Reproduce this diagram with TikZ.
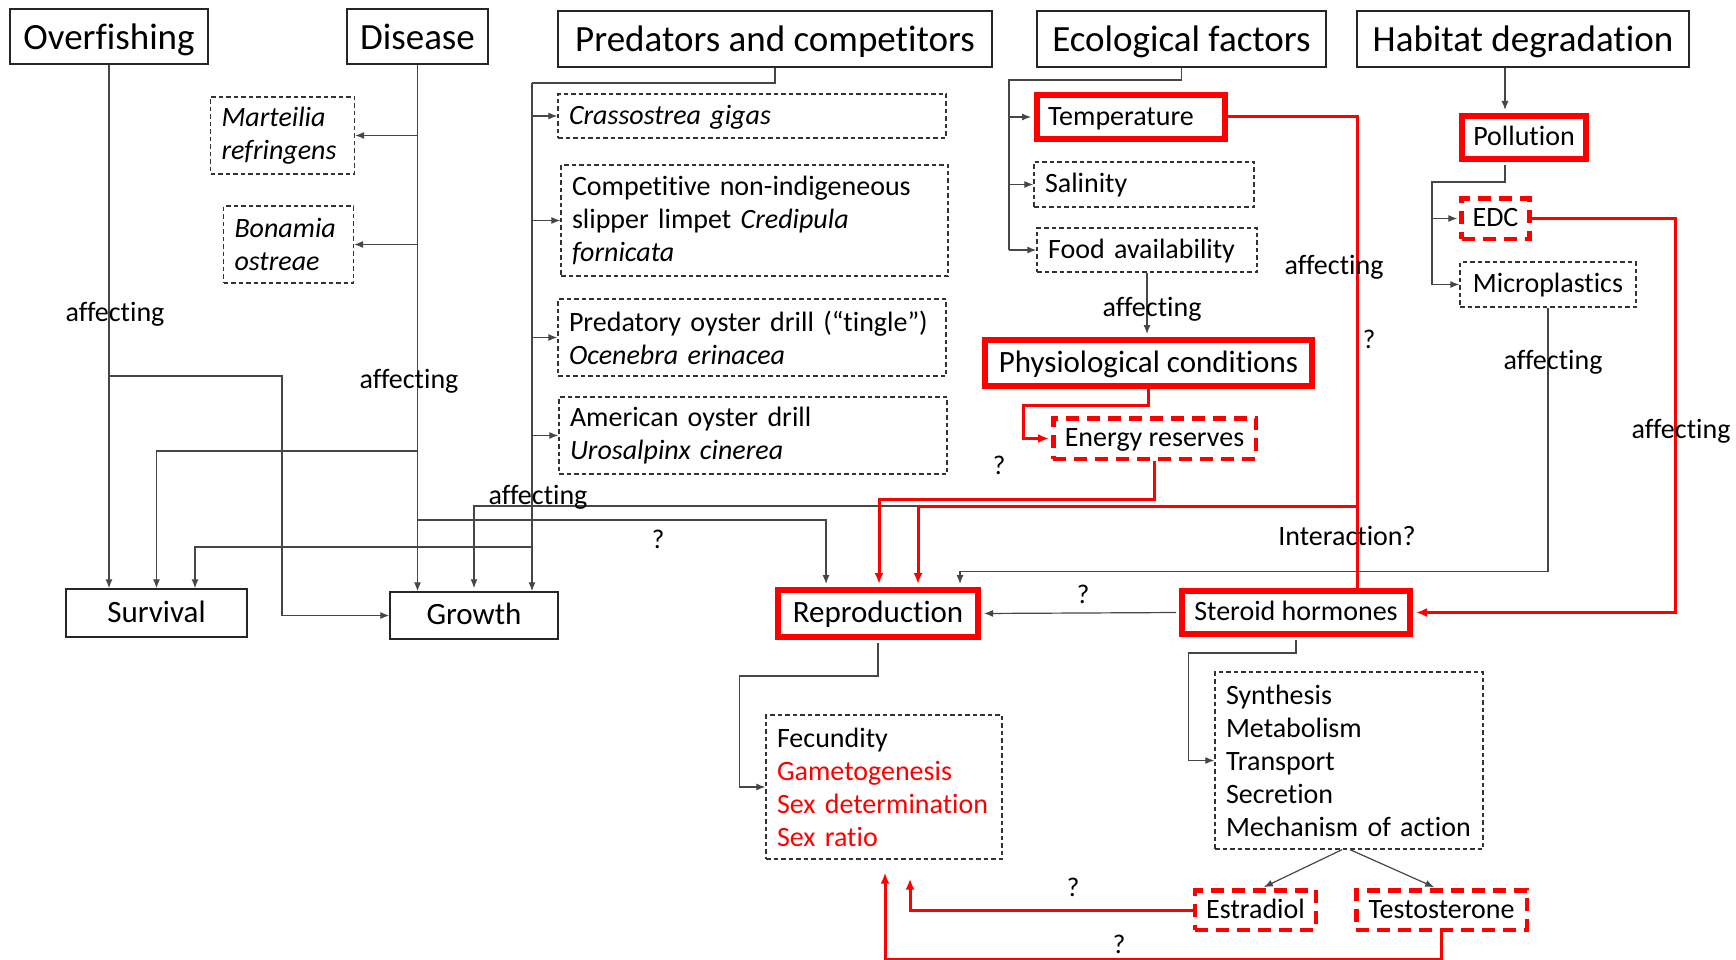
\documentclass[tikz,border=0pt]{standalone}
\usepackage{fontspec}
\setmainfont{Carlito}[Ligatures=NoCommon]
\usetikzlibrary{arrows.meta,calc}
\newcommand{\myfs}[1]{\fontsize{#1}{33}\selectfont}
\definecolor{rd}{RGB}{255,0,0}
\definecolor{gl}{RGB}{70,70,70}
\tikzset{
  every node/.style={inner sep=0pt},
  one/.style={text height=18.5pt, text depth=1.7pt},
  onebig/.style={text height=20.5pt, text depth=1.9pt},
  title/.style={draw=black!85, line width=1.5pt, font=\fontsize{37}{44}\selectfont, text height=27.4pt, text depth=1.5pt},
  dbox/.style={draw=black!80, line width=1.3pt, dash pattern=on 4.5pt off 3pt, inner xsep=11pt, align=left, font=\myfs{28}},
  rbox/.style={draw=rd, line width=6pt, inner xsep=11pt, font=\myfs{28}, one},
  rdbox/.style={draw=rd, line width=4.5pt, dash pattern=on 13pt off 8pt, inner xsep=11pt, font=\myfs{28}, one},
  sbox/.style={draw=black!85, line width=1.5pt, font=\myfs{31}, onebig},
  gline/.style={draw=gl, line width=1.2pt},
  garr/.style={gline, -{Latex[length=9pt,width=7pt]}},
  rline/.style={draw=rd, line width=3pt},
  rarr/.style={rline, -{Latex[length=11pt,width=9pt]}},
  lbl/.style={font=\myfs{28}, one},
  qm/.style={font=\myfs{27}, text height=17.8pt, text depth=1.6pt},
}
\begin{document}
\begin{tikzpicture}[x=1pt,y=-1pt]
\useasboundingbox (0,0) rectangle (1736,960);
\fill[white] (0,0) rectangle (1736,960);

% ---- titles
\node[title, minimum width=198pt, minimum height=55pt] (over) at (109,36.5) {Overfishing};
\node[title, minimum width=141pt, minimum height=55pt] (dis) at (417.5,36.5) {Disease};
\node[title, minimum width=434pt, minimum height=56pt] (pred) at (775,39) {Predators and competitors};
\node[title, minimum width=289pt, minimum height=56pt] (eco) at (1181.5,39) {Ecological factors};
\node[title, minimum width=332pt, minimum height=56pt] (hab) at (1523,39) {Habitat degradation};

% ---- dashed boxes
\node[dbox, text width=122pt, minimum height=77pt] (mart) at (282.5,135.5) {\textit{Marteilia}\\\textit{refringens}};
\node[dbox, text width=108pt, minimum height=77pt] (bon) at (288.5,244.5) {\textit{Bonamia}\\\textit{ostreae}};
\node[dbox, one, text width=366pt, minimum height=44pt] (cras) at (752,116) {\textit{Crassostrea gigas}};
\node[dbox, text width=365pt, minimum height=111pt] (comp) at (754.5,220.5) {Competitive non-indigeneous\\slipper limpet \textit{Credipula}\\\textit{fornicata}};
\node[dbox, text width=366pt, minimum height=77pt] (predd) at (752,337.5) {Predatory oyster drill (“tingle”)\\\textit{Ocenebra erinacea}};
\node[dbox, text width=366pt, minimum height=77pt] (amer) at (753,435.5) {American oyster drill\\\textit{Urosalpinx cinerea}};
\node[dbox, one, text width=198pt, minimum height=45pt] (sal) at (1144,184.5) {Salinity};
\node[dbox, one, text width=198pt, minimum height=44pt] (food) at (1147,250) {Food availability};
\node[dbox, one, minimum width=176pt, minimum height=45pt] (micro) at (1548,284.5) {Microplastics};
\node[dbox, text width=214pt, minimum height=144pt] (fec) at (884,787) {Fecundity\\\textcolor{rd}{Gametogenesis}\\\textcolor{rd}{Sex determination}\\\textcolor{rd}{Sex ratio}};
\node[dbox, text width=246pt, minimum height=177pt] (syn) at (1349,760.5) {Synthesis\\Metabolism\\Transport\\Secretion\\Mechanism of action};

% ---- red boxes
\node[rbox, text width=166pt, align=left, minimum height=44pt] (temp) at (1131,117) {Temperature};
\node[rbox, minimum width=124pt, minimum height=43pt] (poll) at (1524,137.5) {Pollution};
\node[rbox, onebig, minimum width=327pt, minimum height=46pt, font=\myfs{31}] (phys) at (1148.5,363) {Physiological conditions};
\node[rbox, onebig, minimum width=200pt, minimum height=47pt, font=\myfs{31}] (repro) at (878,613.5) {Reproduction};
\node[rbox, minimum width=228pt, minimum height=43pt] (ster) at (1296,612.5) {Steroid hormones};
\node[rdbox, minimum width=66.5pt, minimum height=40.5pt] (edc) at (1495.5,218.5) {EDC};
\node[rdbox, minimum width=202.5pt, minimum height=40.5pt] (energy) at (1154.5,438.5) {Energy reserves};
\node[rdbox, minimum width=120.5pt, minimum height=39.5pt] (estr) at (1255.5,910) {Estradiol};
\node[rdbox, minimum width=170.5pt, minimum height=39.5pt] (test) at (1441.5,910) {Testosterone};

% ---- outcome boxes
\node[sbox, minimum width=181pt, minimum height=48pt] (surv) at (156.5,613) {Survival};
\node[sbox, minimum width=168pt, minimum height=47pt] (grow) at (474,615.5) {Growth};

% ---- helper coordinates
\coordinate (o1) at (109,376);
\coordinate (o2) at (282,376);
\coordinate (d1) at (417.5,451);
\coordinate (d2) at (417.5,520);
\coordinate (pv) at (532,83);
\coordinate (p1) at (532,547);
\coordinate (ev) at (1009,80);
\coordinate (hp) at ([xshift=-19pt]poll.north);
\coordinate (pb) at ([xshift=-19pt]poll.south);
\coordinate (hv) at (1432,182);
\coordinate (tj) at (1357,506);

% ---- gray connectors
\draw[garr] (over.south) -- (over.south |- surv.north);
\draw[garr] (o1) -- (o2) |- (grow.west);
\draw[garr] (dis.south) -- (dis.south |- grow.north);
\draw[garr] (dis.south |- mart.east) -- (mart.east);
\draw[garr] (dis.south |- bon.east) -- (bon.east);
\draw[garr] (d1) -| (surv.north);
\draw[garr, shorten >=3pt] (d2) -| ([xshift=-52pt]repro.north);

\draw[gline] (pred.south) |- (pv);
\draw[garr] (pv) -- (pv |- grow.north);
\draw[garr] (pv |- cras.west) -- (cras.west);
\draw[garr] (pv |- comp.west) -- (comp.west);
\draw[garr] (pv |- predd.west) -- (predd.west);
\draw[garr] (pv |- amer.west) -- (amer.west);
\draw[garr] (p1) -| ([xshift=38.5pt]surv.north);

\draw[gline] (eco.south) |- (ev) -- (ev |- food.west);
\draw[garr, shorten >=3pt] (ev |- temp.west) -- (temp.west);
\draw[garr] (ev |- sal.west) -- (sal.west);
\draw[garr] (ev |- food.west) -- (food.west);
\draw[garr, shorten >=3pt] (food.south) -- (food.south |- phys.north);

\draw[garr, shorten >=3pt] (hp |- hab.south) -- (hp);
\draw[gline, shorten <=3pt] (pb) |- (hv) -- (hv |- micro.west);
\draw[garr, shorten >=2pt] (hv |- edc.west) -- (edc.west);
\draw[garr] (hv |- micro.west) -- (micro.west);
\draw[garr, shorten >=3pt] (micro.south) -- ++(0,264) -| ([xshift=82pt]repro.north);

\draw[garr, shorten >=3pt, shorten <=3pt] (ster.west) -- (repro.east);
\draw[garr, shorten >=3pt] (tj) -| (grow.north);
\draw[garr, shorten <=3pt] (repro.south) -- ++(0,36) -| ([xshift=-26pt]fec.west) -- (fec.west);
\draw[garr, shorten <=3pt] (ster.south) -- ++(0,16) -| ([xshift=-26pt]syn.west) -- (syn.west);
\draw[garr, shorten >=2pt] ([xshift=-7pt]syn.south) -- ([xshift=6.5pt]estr.north);
\draw[garr, shorten >=2pt] ([xshift=1pt]syn.south) -- ([xshift=-5.5pt]test.north);

% ---- red connectors
\draw[rline] (temp.east) -| ([xshift=61pt]ster.north);
\draw[rarr, shorten >=3pt] (tj) -| ([xshift=40pt]repro.north);
\draw[rarr, shorten >=3pt] (energy.south) -- ++(0,38) -| ([xshift=1pt]repro.north);
\draw[rarr, shorten >=2pt] (phys.south) -- ++(0,16) -| ([xshift=-28pt]energy.west) -- (energy.west);
\draw[rarr, shorten >=3pt] (edc.east) -- ++(144,0) |- (ster.east);
\draw[rarr] (estr.west) -| ([xshift=26pt,yshift=-19pt]fec.south);
\draw[rarr] (test.south) -- ++(0,27) -| ([xshift=1pt,yshift=-13pt]fec.south);

% ---- labels
\node[lbl] (a1) at (115,313) {affecting};
\node[lbl] (a2) at (409,380) {affecting};
\node[lbl] (a3) at (538,496) {affecting};
\node[lbl] (a4) at (1152,308) {affecting};
\node[lbl] (a5) at (1334,266) {affecting};
\node[lbl] (a6) at (1553,361) {affecting};
\node[lbl] (a7) at (1681,430) {affecting};
\node[lbl] (int) at (1347,537) {Interaction?};
\node[qm] (q1) at (999,466) {?};
\node[qm] (q2) at (658,540) {?};
\node[qm] (q3) at (1369,340) {?};
\node[qm] (q4) at (1083,595) {?};
\node[qm] (q5) at (1073,888) {?};
\node[qm] (q6) at (1119,945) {?};
\end{tikzpicture}
\end{document}
